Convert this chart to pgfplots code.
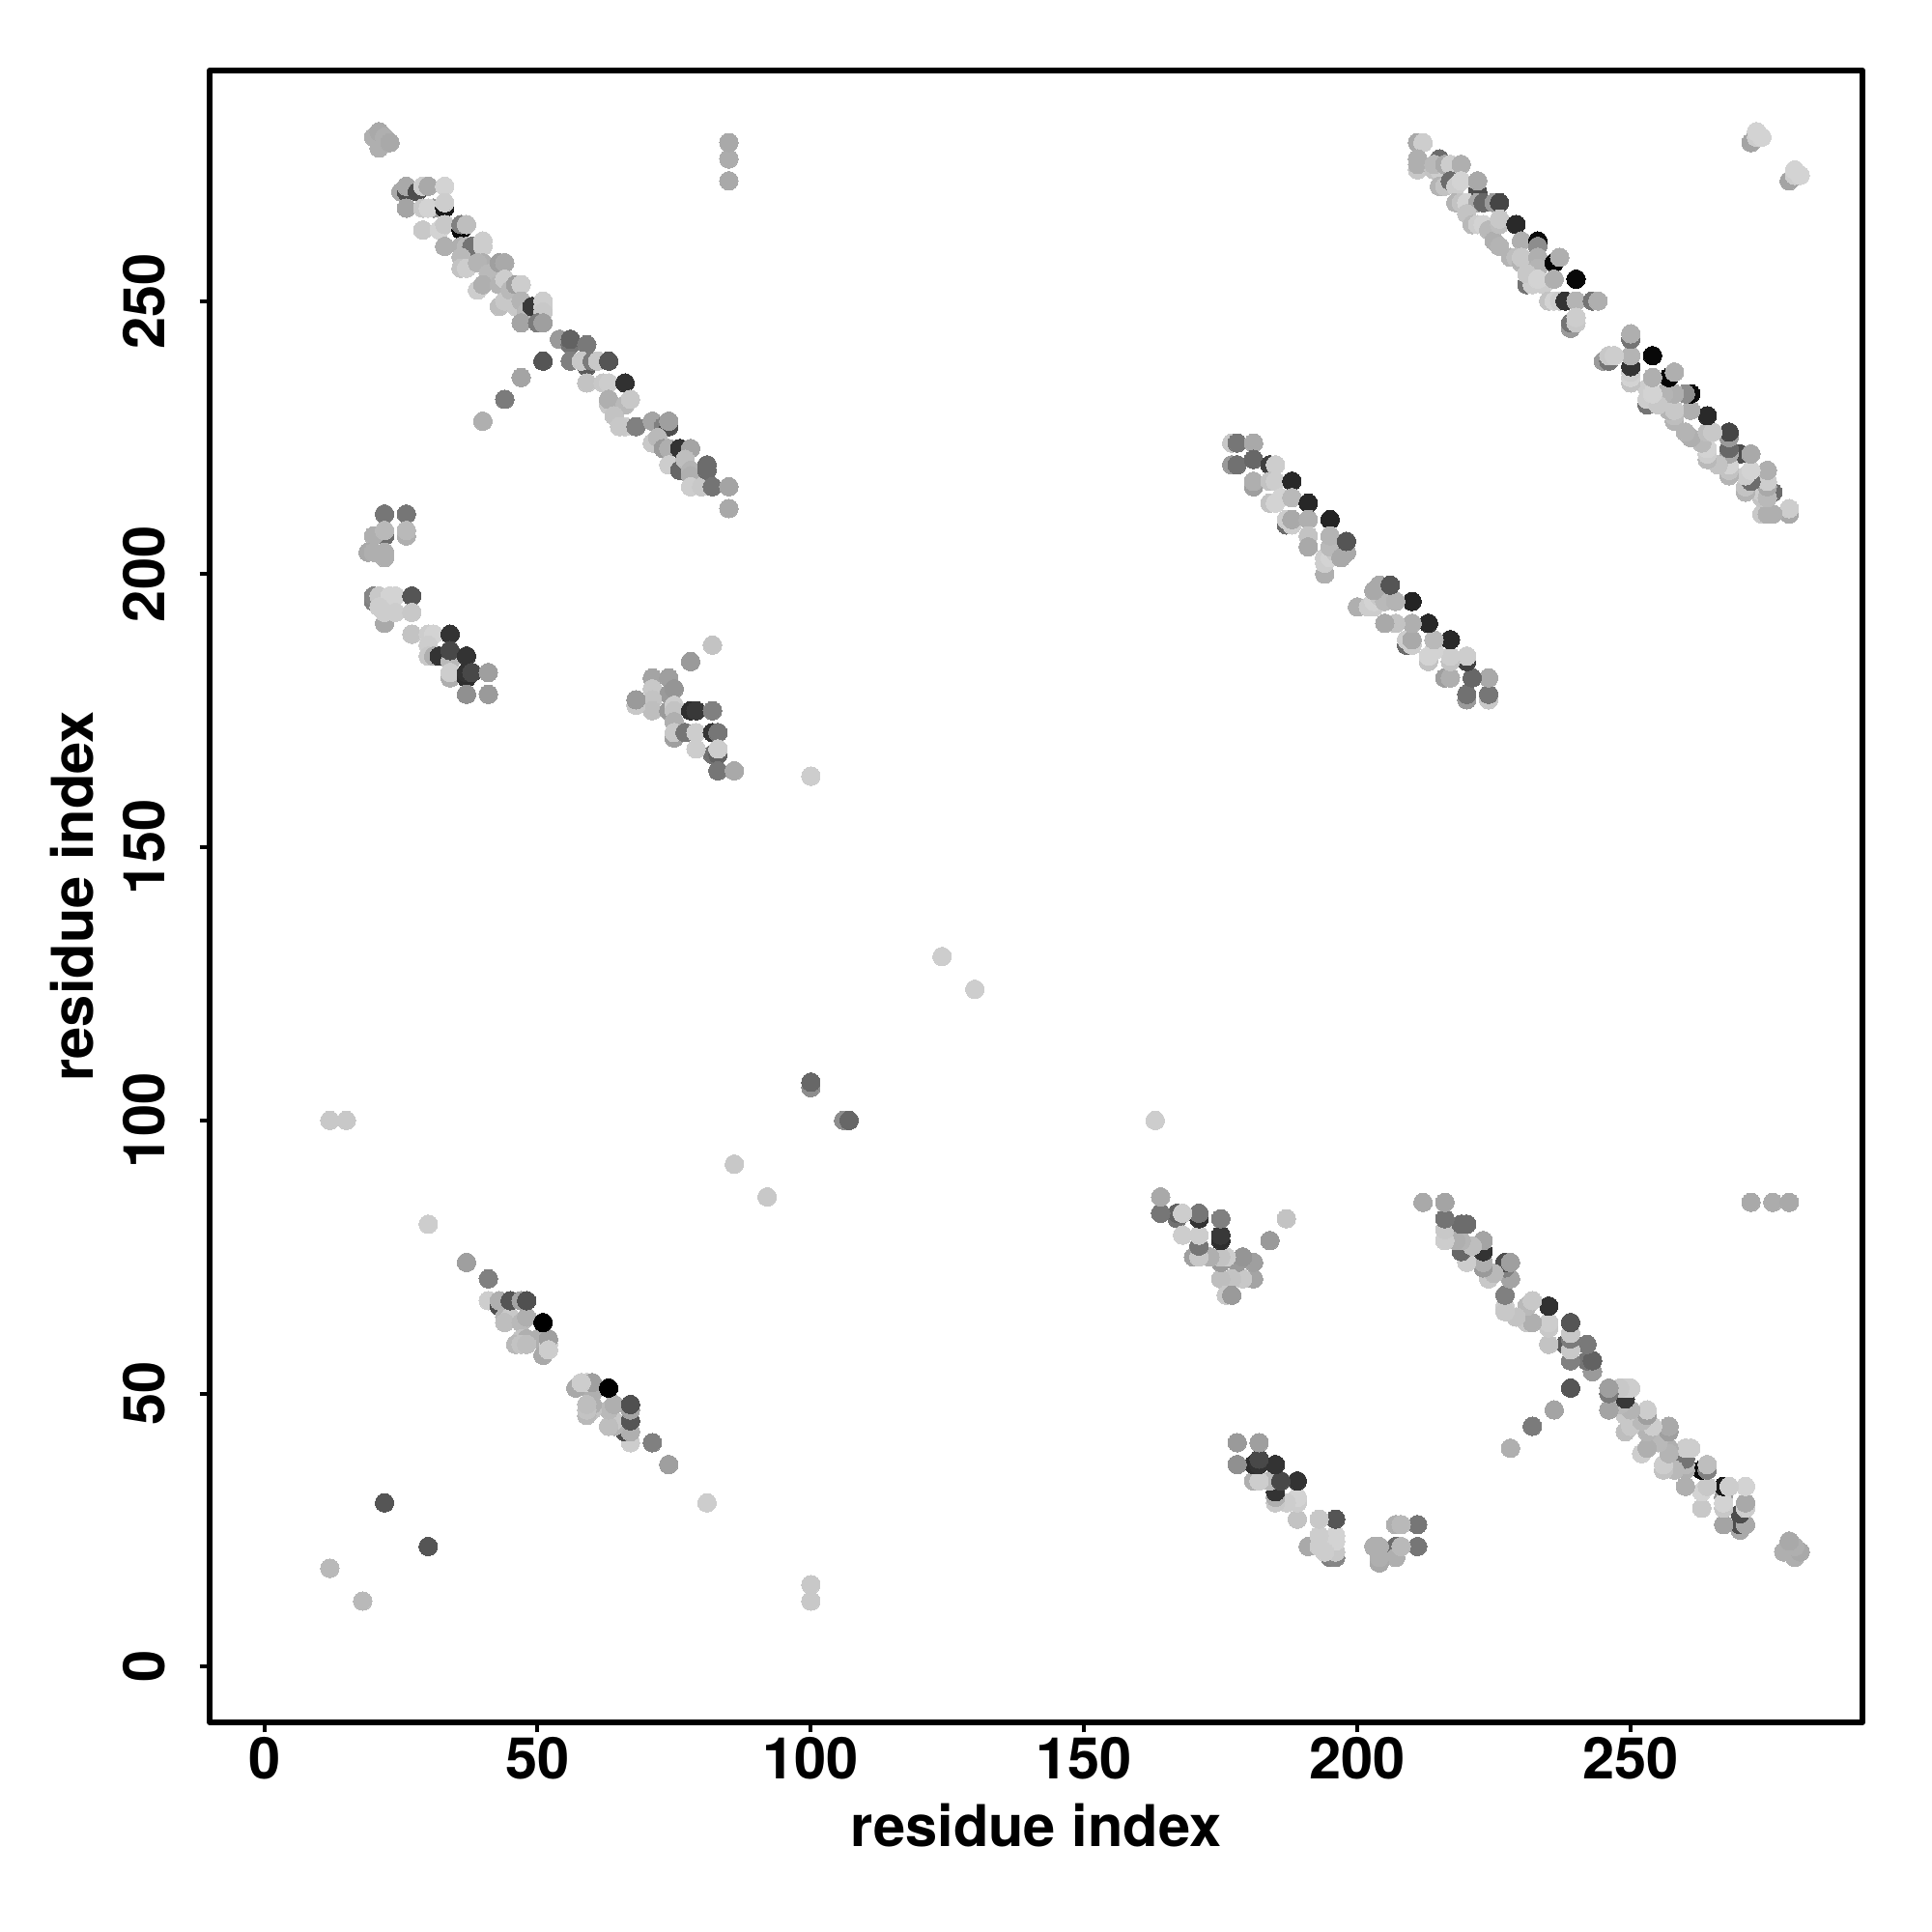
\documentclass[border=0pt]{standalone}
\usepackage{fontspec}
\setmainfont{TeX Gyre Heros}
\usepackage{pgfplots}
\usepackage{pgfplotstable}
\pgfplotsset{compat=1.18}

% contact pairs, i<j; every pair is drawn twice, as (i,j) and (j,i)
\pgfplotstableread{
i j g
12 18 .72
12 100 .78
15 100 .78
22 30 .33
30 81 .80
85 272 .66
85 276 .67
85 279 .66
86 92 .78
100 106 .55
100 107 .40
100 163 .80
124 130 .80
40 228 .68
44 232 .48
47 236 .64
51 239 .33
20 280 .68
21 278 .68
21 281 .66
22 280 .68
23 279 .66
25 270 .66
26 270 .30
26 271 .66
26 267 .64
28 270 .30
29 271 .80
30 271 .66
33 271 .82
31 267 .60
29 267 .78
30 267 .82
33 267 .10
33 268 .80
29 263 .78
32 263 .82
33 264 .78
33 260 .68
36 263 .04
36 264 .50
37 264 .74
36 260 .68
37 260 .72
38 260 .45
40 260 .80
40 261 .80
36 258 .72
36 256 .76
37 256 .80
40 257 .68
39 257 .70
41 255 .72
39 252 .80
40 253 .68
43 257 .62
44 257 .66
43 253 .70
44 254 .80
43 249 .74
44 250 .78
45 252 .72
46 253 .62
47 253 .80
46 249 .78
47 250 .70
48 248 .72
47 246 .64
49 249 .22
51 250 .80
51 249 .80
51 248 .78
50 246 .48
51 246 .62
54 243 .60
56 242 .45
56 243 .38
56 239 .50
59 242 .47
59 238 .35
58 239 .78
60 239 .48
61 239 .78
63 239 .33
59 235 .76
62 235 .78
63 235 .80
66 235 .19
63 231 .78
63 232 .68
66 231 .72
67 232 .78
64 229 .76
66 227 .80
65 227 .78
68 227 .50
71 228 .64
71 224 .78
73 227 .50
74 227 .30
74 228 .62
72 225 .72
73 223 .60
74 223 .68
74 220 .80
76 223 .20
78 223 .64
76 219 .40
77 221 .74
78 219 .70
78 218 .68
78 216 .80
80 216 .78
81 219 .42
81 220 .42
82 216 .45
85 216 .64
85 212 .66
22 211 .46
26 211 .46
22 207 .42
20 207 .68
22 208 .72
26 207 .68
26 208 .72
19 204 .66
20 204 .68
22 203 .68
22 204 .68
20 195 .50
20 196 .52
21 196 .78
23 196 .82
24 196 .82
22 194 .82
23 195 .82
21 194 .80
27 196 .33
22 191 .66
22 193 .80
24 193 .80
27 193 .78
27 189 .76
30 189 .80
31 189 .82
34 189 .20
30 187 .80
30 185 .78
31 185 .68
32 185 .20
34 184 .72
34 186 .28
37 185 .20
34 181 .68
34 182 .80
37 181 .18
37 182 .20
38 182 .28
41 182 .62
37 178 .56
41 178 .60
82 187 .76
78 184 .60
71 181 .64
74 181 .62
71 179 .78
74 178 .60
75 179 .58
71 177 .76
71 175 .74
68 176 .78
68 177 .60
74 175 .60
75 176 .80
75 175 .76
75 173 .68
75 170 .62
75 171 .78
78 175 .18
79 175 .22
82 175 .50
77 171 .46
79 171 .80
82 171 .20
83 171 .46
82 167 .44
83 167 .38
79 168 .80
83 168 .80
83 164 .46
86 164 .66
177 224 .78
178 224 .46
181 224 .66
177 220 .60
178 220 .44
181 221 .40
184 220 .25
185 220 .80
181 216 .62
181 217 .68
184 217 .76
185 217 .80
188 217 .16
184 213 .76
185 213 .82
186 214 .82
188 214 .72
191 213 .15
187 209 .42
187 210 .80
188 209 .80
188 210 .66
191 210 .68
191 207 .76
191 205 .66
195 210 .14
194 200 .68
194 202 .80
194 203 .80
195 203 .82
196 204 .78
195 205 .72
195 207 .70
197 203 .66
198 204 .66
198 206 .33
211 279 .66
212 279 .80
211 274 .78
211 275 .68
211 276 .68
214 274 .76
215 274 .80
215 276 .42
214 275 .72
216 275 .66
217 275 .80
219 275 .68
215 271 .70
216 271 .76
217 272 .42
218 271 .80
219 272 .82
222 270 .30
222 272 .66
218 268 .70
219 268 .76
220 268 .82
222 268 .66
223 268 .40
225 268 .60
226 268 .27
220 266 .76
221 264 .72
222 264 .80
223 264 .82
224 263 .72
225 261 .68
226 260 .70
226 264 .74
226 265 .78
229 264 .16
230 261 .68
233 261 .04
233 260 .55
228 258 .70
229 258 .74
230 257 .70
230 258 .78
233 258 .68
233 256 .70
236 257 .02
237 258 .68
231 253 .45
232 253 .80
231 255 .78
234 253 .80
233 254 .82
236 254 .68
240 254 .03
235 250 .76
236 250 .82
237 250 .80
238 250 .20
240 250 .70
243 250 .45
244 250 .68
239 245 .60
239 246 .45
240 246 .78
240 247 .80
272 279 .64
273 280 .80
274 280 .82
273 281 .82
37 74 .62
41 71 .50
41 67 .80
43 66 .30
43 67 .68
44 64 .70
45 64 .78
44 63 .74
47 63 .72
48 64 .68
50 60 .68
47 60 .76
48 60 .68
46 59 .72
47 59 .76
48 59 .74
52 59 .82
52 60 .62
51 57 .66
52 58 .80
45 67 .33
47 67 .64
48 67 .31
51 63 .00
}\contacts

\begin{document}
\begin{tikzpicture}
\path[use as bounding box] (-54.25pt,-54.25pt) rectangle (445.75pt,445.75pt);
\begin{axis}[
    at={(0pt,0pt)},
    anchor=south west,
    scale only axis,
    width=427.75pt,
    height=427.5pt,
    xmin=-10, xmax=292.4,
    ymin=-10.2, ymax=292.2,
    xtick={0,50,100,150,200,250},
    ytick={0,50,100,150,200,250},
    xtick pos=bottom,
    ytick pos=left,
    tick align=outside,
    major tick length=2.6pt,
    tick style={line width=1pt,black},
    axis line style={line width=1.45pt,line join=round},
    /pgf/number format/assume math mode=true,
    tick label style={font=\fontsize{14.9}{16}\selectfont\bfseries},
    xticklabel style={anchor=base,yshift=-11.9pt},
    yticklabel style={rotate=90,anchor=base,yshift=8.9pt},
    label style={font=\fontsize{14.9}{16}\selectfont\bfseries},
    xlabel={residue index},
    ylabel={residue index},
    xlabel style={at={(axis description cs:0.5,0)},anchor=base,yshift=-32pt},
    ylabel style={at={(axis description cs:0,0.5)},anchor=base,rotate=0,yshift=30pt},
    colormap={bw}{gray(0cm)=(0); gray(1cm)=(1)},
    point meta min=0,
    point meta max=1,
    scatter/use mapped color={draw=mapped color,fill=mapped color},
    clip=false,
]
\addplot[scatter,only marks,mark=*,mark size=2.4pt,mark options={line width=0pt},scatter src=explicit]
    table[x=i,y=j,meta=g] {\contacts};
\addplot[scatter,only marks,mark=*,mark size=2.4pt,mark options={line width=0pt},scatter src=explicit]
    table[x=j,y=i,meta=g] {\contacts};
\end{axis}
\end{tikzpicture}
\end{document}
